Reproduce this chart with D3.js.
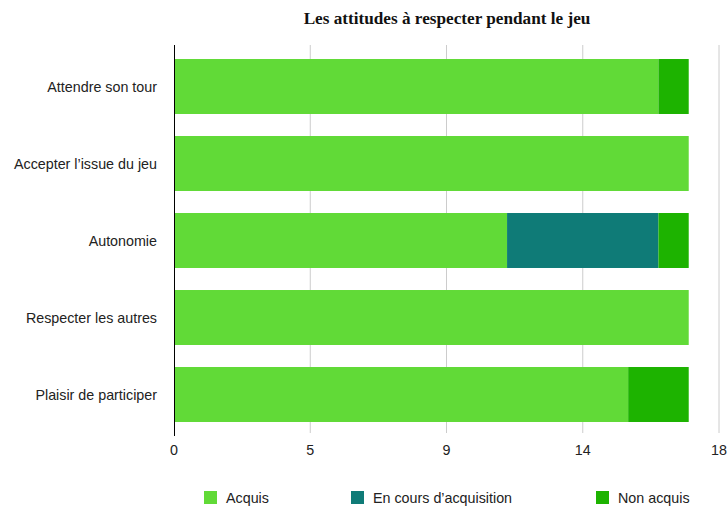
<!DOCTYPE html>
<html><head><meta charset="utf-8">
<script src="https://cdn.jsdelivr.net/npm/d3@7"></script>
<style>body{margin:0;background:#fff}svg{display:block}</style>
</head><body>
<svg id="c" width="727" height="508"></svg>
<script>
const categories = ["Attendre son tour","Accepter l\u2019issue du jeu","Autonomie","Respecter les autres","Plaisir de participer"];
const seriesNames = ["Acquis","En cours d\u2019acquisition","Non acquis"];
const acquis = [16,17,11,17,15];
const enCours = [0,0,5,0,0];
const nonAcquis = [1,0,1,0,2];
const tickValues = [0,4.5,9,13.5,18];
const tickLabels = ["0","5","9","14","18"];
const colors = ["#61da37","#0f7b77","#1db300"];

const svg = d3.select("#c");
const x = d3.scaleLinear().domain([0,18]).range([174,719]);
const y = d3.scaleBand().domain(categories).range([48,433]).paddingInner(0.286).paddingOuter(0.143);

const rows = categories.map((c,i)=>({cat:c, vals:[acquis[i],enCours[i],nonAcquis[i]]}));
const stackData = d3.stack().keys([0,1,2])(rows.map(r=>({cat:r.cat,0:r.vals[0],1:r.vals[1],2:r.vals[2]})));
const FS = 14.3;
const sans = "'Liberation Sans', Arial, Helvetica, sans-serif";

// gridlines
svg.append("g").selectAll("line").data(tickValues.slice(1)).join("line")
  .attr("x1",d=>x(d)).attr("x2",d=>x(d)).attr("y1",45).attr("y2",433)
  .attr("stroke","#cccccc").attr("stroke-width",1);

// bars
svg.append("g").selectAll("g").data(stackData).join("g")
  .attr("fill",(d,i)=>colors[i])
  .selectAll("rect").data(d=>d).join("rect")
  .attr("x",d=>x(d[0])).attr("width",d=>x(d[1])-x(d[0]))
  .attr("y",d=>y(d.data.cat)).attr("height",y.bandwidth());

// y axis line
svg.append("line").attr("x1",174.5).attr("x2",174.5).attr("y1",45).attr("y2",436)
  .attr("stroke","#000").attr("stroke-width",1);

// x tick labels
svg.append("g").selectAll("text").data(tickValues).join("text")
  .attr("x",d=>x(d)).attr("y",455).attr("text-anchor","middle")
  .attr("font-family",sans).attr("font-size",FS).attr("fill","#222")
  .text((d,i)=>tickLabels[i]);

// y labels
svg.append("g").selectAll("text").data(categories).join("text")
  .attr("x",157).attr("y",d=>y(d)+y.bandwidth()/2).attr("dy","0.35em").attr("text-anchor","end")
  .attr("font-family",sans).attr("font-size",FS).attr("fill","#222")
  .text(d=>d);

// title
svg.append("text").attr("x",447).attr("y",24).attr("text-anchor","middle")
  .attr("font-family","'Liberation Serif', 'Times New Roman', serif").attr("font-weight","bold")
  .attr("font-size",17.2).attr("fill","#111").text("Les attitudes \u00e0 respecter pendant le jeu");

// legend
const legX = [204,351,596];
const leg = svg.append("g").selectAll("g").data(seriesNames).join("g")
  .attr("transform",(d,i)=>`translate(${legX[i]},491)`);
leg.append("rect").attr("width",13).attr("height",13).attr("fill",(d,i)=>colors[i]);
leg.append("text").attr("x",22).attr("y",6.5).attr("dy","0.35em")
  .attr("font-family",sans).attr("font-size",FS).attr("fill","#222")
  .text(d=>d);
</script>
</body></html>
